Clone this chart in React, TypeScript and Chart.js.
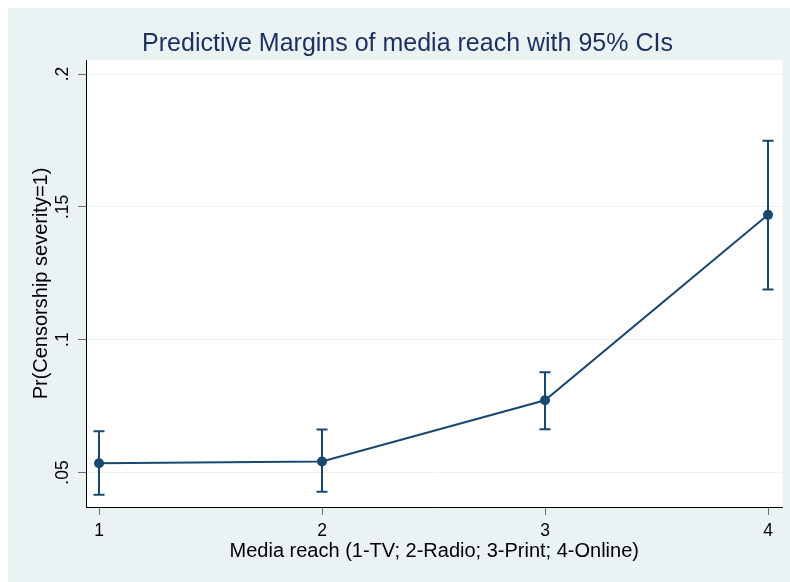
import React, { useEffect, useRef } from "react";
import { Chart, registerables } from "chart.js";

Chart.register(...registerables);

// Predictive margins by media reach, with 95% confidence intervals
const mediaReach = [1, 2, 3, 4];
const margins = [0.0535, 0.0541, 0.0772, 0.147];
const ciLower = [0.0416, 0.0427, 0.0663, 0.1189];
const ciUpper = [0.0655, 0.0662, 0.0877, 0.1749];

const xTicks = [1, 2, 3, 4];
const yTicks = [0.05, 0.1, 0.15, 0.2];
const yTickLabels = [".05", ".1", ".15", ".2"];

const titleText = "Predictive Margins of media reach with 95% CIs";
const xTitleText = "Media reach (1-TV; 2-Radio; 3-Print; 4-Online)";
const yTitleText = "Pr(Censorship severity=1)";

const NAVY = "#1a476f";
const BG = "#eaf2f3";
const FONT = "'Liberation Sans', Arial, Helvetica, sans-serif";

const W = 782;
const H = 574;

// Light graph region with a white plot region
const backgroundPlugin = {
  id: "stataBackground",
  beforeDraw(chart: any) {
    const { ctx, chartArea } = chart;
    ctx.save();
    ctx.fillStyle = BG;
    ctx.fillRect(0, 0, chart.width, chart.height);
    ctx.fillStyle = "#ffffff";
    ctx.fillRect(
      chartArea.left,
      chartArea.top,
      chartArea.right - chartArea.left,
      chartArea.bottom - chartArea.top
    );
    ctx.restore();
  },
};

// Capped vertical spikes for the confidence intervals
const ciCapsPlugin = {
  id: "ciCaps",
  beforeDatasetsDraw(chart: any) {
    const { ctx } = chart;
    const xs = chart.scales.x;
    const ys = chart.scales.y;
    const capHalf = 5.5;
    ctx.save();
    ctx.strokeStyle = NAVY;
    ctx.lineWidth = 2;
    ctx.lineCap = "butt";
    mediaReach.forEach((m, i) => {
      const px = xs.getPixelForValue(m);
      const lo = ys.getPixelForValue(ciLower[i]);
      const hi = ys.getPixelForValue(ciUpper[i]);
      ctx.beginPath();
      ctx.moveTo(px, lo);
      ctx.lineTo(px, hi);
      ctx.moveTo(px - capHalf, lo);
      ctx.lineTo(px + capHalf, lo);
      ctx.moveTo(px - capHalf, hi);
      ctx.lineTo(px + capHalf, hi);
      ctx.stroke();
    });
    ctx.restore();
  },
};

export default function App() {
  const canvasRef = useRef<HTMLCanvasElement | null>(null);

  useEffect(() => {
    const canvas = canvasRef.current;
    if (!canvas) return;

    const chart = new Chart(canvas, {
      type: "line",
      data: {
        datasets: [
          {
            label: "Margin",
            data: mediaReach.map((x, i) => ({ x, y: margins[i] })),
            borderColor: NAVY,
            backgroundColor: NAVY,
            borderWidth: 2,
            pointRadius: 5,
            pointBorderWidth: 0,
            pointBackgroundColor: NAVY,
            tension: 0,
          },
        ],
      },
      options: {
        responsive: false,
        animation: false,
        devicePixelRatio: 1,
        layout: { padding: { left: 24.5, right: 7.5, top: 0, bottom: 0 } },
        plugins: {
          legend: { display: false },
          tooltip: { enabled: false },
          title: {
            display: true,
            text: titleText,
            color: "#1e2f5e",
            font: { family: FONT, size: 25, weight: "normal", lineHeight: "25px" },
            padding: { top: 23.5, bottom: 3.5 },
          },
        },
        scales: {
          x: {
            type: "linear",
            min: 0.9417,
            max: 4.065,
            afterBuildTicks: (s: any) => {
              s.ticks = xTicks.map((v) => ({ value: v }));
            },
            afterFit: (s: any) => {
              s.height = 75;
            },
            ticks: {
              color: "#000",
              padding: 7,
              font: { family: FONT, size: 17.5, lineHeight: "18px" },
              callback: (v: any) => String(v),
            },
            grid: {
              drawOnChartArea: false,
              drawTicks: true,
              tickLength: 8,
              tickColor: "#6e6e6e",
              tickWidth: 1,
            },
            border: { display: true, color: "#000", width: 1 },
            title: {
              display: true,
              text: xTitleText,
              color: "#000",
              font: { family: FONT, size: 20, lineHeight: "20px" },
              padding: { top: 0, bottom: 20.5 },
            },
          },
          y: {
            type: "linear",
            min: 0.037,
            max: 0.2053,
            afterBuildTicks: (s: any) => {
              s.ticks = yTicks.map((v) => ({ value: v }));
            },
            afterFit: (s: any) => {
              s.width = 53.5;
            },
            ticks: {
              color: "#000",
              minRotation: 90,
              maxRotation: 90,
              crossAlign: "center",
              padding: 3,
              font: { family: FONT, size: 17.5, lineHeight: "18px" },
              callback: (v: any) => {
                const k = yTicks.indexOf(v);
                return k >= 0 ? yTickLabels[k] : "";
              },
            },
            grid: {
              color: BG,
              lineWidth: 1,
              drawTicks: true,
              tickLength: 8,
              tickColor: "#6e6e6e",
              tickWidth: 1,
            },
            border: { display: true, color: "#000", width: 1 },
            title: {
              display: true,
              text: yTitleText,
              color: "#000",
              font: { family: FONT, size: 20, lineHeight: "18px" },
              padding: { top: 0, bottom: 0 },
            },
          },
        },
      },
      plugins: [backgroundPlugin, ciCapsPlugin],
    } as any);

    return () => chart.destroy();
  }, []);

  return (
    <div
      style={{
        position: "fixed",
        left: 8,
        top: 8,
        width: W,
        height: H,
        background: BG,
        overflow: "hidden",
      }}
    >
      <canvas ref={canvasRef} width={W} height={H} style={{ display: "block" }} />
    </div>
  );
}
